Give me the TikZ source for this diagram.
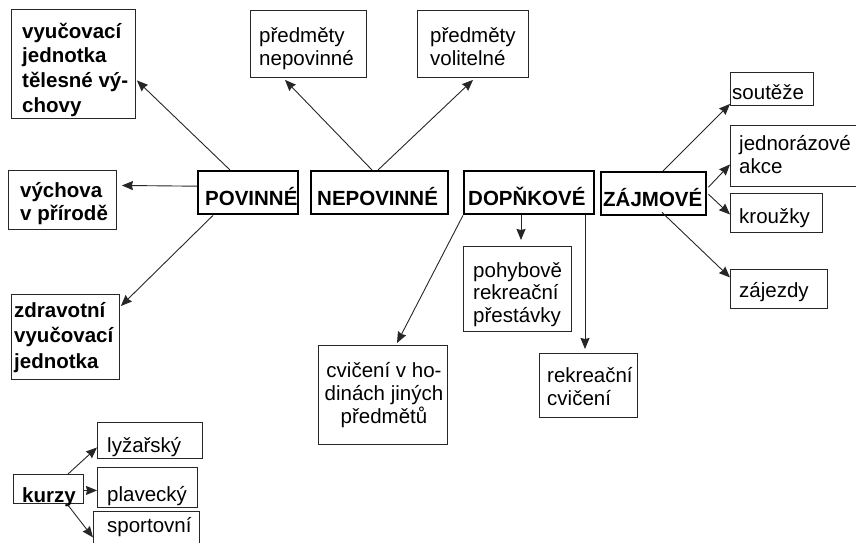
\documentclass[tikz,border=0pt]{standalone}
\usepackage{fontspec}
\setmainfont{Liberation Sans}
\usetikzlibrary{arrows.meta}
\newcommand\fl{\rule{0pt}{19pt}}
\tikzset{
  bx/.style={draw=black!85, line width=0.9pt, inner sep=0pt, anchor=north west},
  thick box/.style={draw=black, line width=2.4pt, inner sep=0pt, anchor=north west},
  tx/.style={inner sep=0pt, anchor=north west, align=left, font=\fontsize{20.5}{23}\selectfont},
  txb/.style={inner sep=0pt, anchor=north west, align=left, font=\fontsize{20.5}{24.7}\selectfont\bfseries},
  arr/.style={draw=black!85, line width=0.9pt, -{Stealth[length=11pt,width=9pt,inset=1pt]}}
}
\begin{document}
\begin{tikzpicture}[x=1pt,y=-1pt]
\useasboundingbox (0,0) rectangle (856,543);
% boxes
\node[bx, minimum width=124, minimum height=109] (vyu) at (11,9) {};
\node[bx, minimum width=108, minimum height=59] (vych) at (8,170) {};
\node[bx, minimum width=108, minimum height=85] (zdr) at (11,294) {};
\node[thick box, minimum width=100, minimum height=43] (pov) at (197,170) {};
\node[thick box, minimum width=137, minimum height=43] (nep) at (310,170) {};
\node[thick box, minimum width=130, minimum height=43] (dop) at (463,170) {};
\node[thick box, minimum width=105, minimum height=43] (zaj) at (600,171) {};
\node[bx, minimum width=116, minimum height=67] (pn) at (250,10) {};
\node[bx, minimum width=111, minimum height=67] (pv) at (417,10) {};
\node[bx, minimum width=83, minimum height=33] (sout) at (730,72) {};
\node[bx, minimum width=127, minimum height=61] (jed) at (730,125) {};
\node[bx, minimum width=92, minimum height=39] (kro) at (730,193) {};
\node[bx, minimum width=97, minimum height=39] (zje) at (730,269) {};
\node[bx, minimum width=108, minimum height=85] (poh) at (463,246) {};
\node[bx, minimum width=98, minimum height=64] (rek) at (539,353) {};
\node[bx, minimum width=129, minimum height=99] (cv) at (318,345) {};
\node[bx, minimum width=70, minimum height=29] (kur) at (13,474) {};
\node[bx, minimum width=105, minimum height=36] (lyz) at (97,422) {};
\node[bx, minimum width=100, minimum height=40] (plav) at (97,467) {};
\node[bx, minimum width=106, minimum height=40] (spor) at (93,511) {};
% texts (top = first baseline - 19)
\node[txb] (tvyu) at (22,19) {\fl vyučovací\\jednotka\\tělesné vý-\\chovy};
\node[txb, font=\fontsize{20.5}{23}\selectfont\bfseries] (tvych) at (20,178) {\fl výchova\\v přírodě};
\node[txb, font=\fontsize{20.5}{25.5}\selectfont\bfseries] (tzdr) at (14,298) {\fl zdravotní\\vyučovací\\jednotka};
\node[txb] (tpov) at (205,186) {\fl POVINNÉ};
\node[txb] (tnep) at (317,186) {\fl NEPOVINNÉ};
\node[txb] (tdop) at (468,186) {\fl DOPŇKOVÉ};
\node[txb] (tzaj) at (603,187) {\fl ZÁJMOVÉ};
\node[tx] (tpn) at (259,23) {\fl předměty\\nepovinné};
\node[tx] (tpv) at (430,23) {\fl předměty\\volitelné};
\node[tx] (tsout) at (732,80) {\fl soutěže};
\node[tx] (tjed) at (739,131) {\fl jednorázové\\akce};
\node[tx] (tkro) at (739,204) {\fl kroužky};
\node[tx] (tzje) at (739,278) {\fl zájezdy};
\node[tx, font=\fontsize{20.5}{22.5}\selectfont] (tpoh) at (473,258) {\fl pohybově\\rekreační\\přestávky};
\node[tx] (trek) at (547,363) {\fl rekreační\\cvičení};
\node[tx, anchor=north, align=center] (tcv) at (384,358) {\fl cvičení v ho-\\dinách jiných\\předmětů};
\node[txb] (tkur) at (22,483) {\fl kurzy};
\node[tx] (tlyz) at (107,433) {\fl lyžařský};
\node[tx] (tplav) at (107,482) {\fl plavecký};
\node[tx] (tspor) at (107,513) {\fl sportovní};
% connectors
\draw[arr] ([xshift=33pt]pov.north west) -- ([xshift=1pt,yshift=-16.5pt]vyu.east);
\draw[arr] ([yshift=6.5pt]pov.west) -- ([xshift=5pt,yshift=14.5pt]vych.east);
\draw[arr] ([xshift=16pt]pov.south west) -- ([xshift=1pt,yshift=-12pt]zdr.north east);
\draw[arr] ([xshift=62pt]nep.north west) -- ([xshift=35pt,yshift=-2pt]pn.south west);
\draw[arr] ([xshift=68pt]nep.north west) -- ([xshift=56pt,yshift=-2pt]pv.south west);
\draw[arr] (dop.south west) -- ([xshift=79pt,yshift=2pt]cv.north west);
\draw[arr] ([xshift=58pt]dop.south west) -- ([xshift=58pt,yshift=6pt]poh.north west);
\draw[arr] ([xshift=122pt]dop.south west) -- ([xshift=46pt,yshift=4pt]rek.north west);
\draw[arr] ([xshift=63pt]zaj.north west) -- ([yshift=2pt]sout.south west);
\draw[arr] ([xshift=1pt,yshift=6.5pt]zaj.east) -- ([yshift=-8.5pt]jed.west);
\draw[arr] ([xshift=1pt,yshift=-0.5pt]zaj.east) -- ([yshift=-1.5pt]kro.west);
\draw[arr] ([xshift=62pt,yshift=4pt]zaj.south west) -- ([yshift=11.5pt]zje.west);
\draw[arr] ([xshift=55pt]kur.north west) -- ([yshift=-7pt]lyz.west);
\draw[arr] ([yshift=-1.5pt]kur.east) -- ([yshift=-1.5pt]kur.east -| plav.west);
\draw[arr] ([xshift=54pt]kur.south west) -- ([yshift=-6pt]spor.west);
\end{tikzpicture}
\end{document}
